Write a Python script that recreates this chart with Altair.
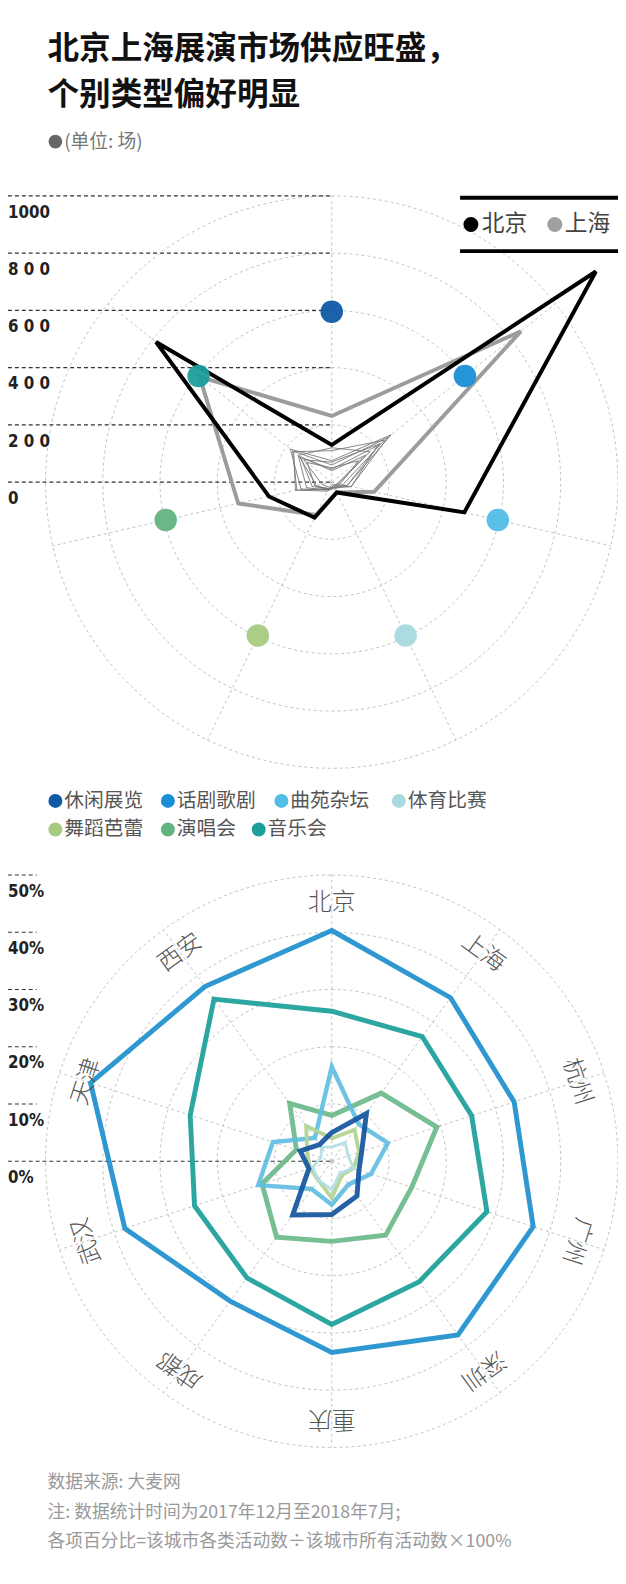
import altair as alt
import pandas as pd

W, H = 618, 1576
CJK = "Noto Sans CJK SC"
NUM_FONT = "DejaVu Sans Condensed, Liberation Sans Narrow, Roboto, sans-serif"

# ---------------- text ----------------
TITLE_LINES = ["北京上海展演市场供应旺盛，", "个别类型偏好明显"]
UNIT_NOTE = "(单位: 场)"
SOURCE_LINES = [
    "数据来源: 大麦网",
    "注: 数据统计时间为2017年12月至2018年7月;",
    "各项百分比=该城市各类活动数÷该城市所有活动数×100%",
]

# ---------------- categories ----------------
CATEGORIES = ["休闲展览", "话剧歌剧", "曲苑杂坛", "体育比赛", "舞蹈芭蕾", "演唱会", "音乐会"]
DOT_COLORS = ["#0f5aa5", "#1a8fd5", "#52bde6", "#a8d9e0", "#a6ca80", "#63b380", "#1c9e9c"]
LINE_COLORS = ["#13529d", "#1d8fcc", "#62bde2", "#b3dde4", "#b0d392", "#6cb98a", "#1a9e98"]

CITIES = ["北京", "上海", "杭州", "广州", "深圳", "重庆", "成都", "武汉", "天津", "西安"]

# ---------------- top radar: counts (场), in CATEGORIES order ----------------
COUNTS_BEIJING = [130, 1180, 475, 40, 138, 225, 785]
COUNTS_SHANGHAI = [231, 845, 152, 40, 127, 335, 590]
COUNTS_HANGZHOU = [60, 250, 70, 20, 35, 125, 175]
COUNTS_GUANGZHOU = [75, 265, 55, 25, 30, 110, 185]
COUNTS_SHENZHEN = [110, 235, 40, 20, 25, 130, 170]
COUNTS_CHONGQING = [50, 120, 30, 20, 25, 60, 110]
COUNTS_CHENGDU = [120, 170, 25, 15, 30, 90, 150]
COUNTS_WUHAN = [45, 205, 70, 20, 25, 70, 140]
COUNTS_TIANJIN = [70, 215, 55, 10, 20, 35, 125]
COUNTS_XIAN = [40, 150, 20, 15, 30, 55, 145]
TOP_COUNTS = [COUNTS_BEIJING, COUNTS_SHANGHAI, COUNTS_HANGZHOU, COUNTS_GUANGZHOU,
              COUNTS_SHENZHEN, COUNTS_CHONGQING, COUNTS_CHENGDU, COUNTS_WUHAN,
              COUNTS_TIANJIN, COUNTS_XIAN]
TOP_GRID_LEVELS = [200, 400, 600, 800, 1000]
TOP_TICK_VALUES = [0, 200, 400, 600, 800, 1000]
TOP_TICK_LABELS = ["0", "2 0 0", "4 0 0", "6 0 0", "8 0 0", "1000"]
TOP_DOT_LEVEL = 595

# ---------------- bottom radar: percent, in CITIES order ----------------
PCT_LEISURE = [5, 10.3, 5.5, 5, 7.5, 9.3, 11.6, 4.2, 5.8, 3.6]        # 休闲展览
PCT_DRAMA = [40.3, 35.3, 33.5, 37, 37.5, 33.4, 30.2, 38, 44.3, 37.7]  # 话剧歌剧
PCT_QUYI = [16.5, 8, 10.3, 7.2, 5, 7.6, 6, 13.5, 10.8, 5]             # 曲苑杂坛
PCT_SPORT = [2.5, 4, 3, 4, 2.5, 5, 4, 3.5, 2, 3]                       # 体育比赛
PCT_DANCE = [4, 6.8, 5, 4, 3, 6.4, 4, 4, 4.5, 7.6]                     # 舞蹈芭蕾
PCT_CONCERT = [8, 14.7, 19.3, 14.7, 16, 14, 16.4, 12.8, 6.5, 12.5]     # 演唱会
PCT_MUSIC = [26.2, 26.9, 25.7, 28.5, 26, 28.5, 25.2, 25.2, 26, 35]     # 音乐会
BOTTOM_PCTS = [PCT_LEISURE, PCT_DRAMA, PCT_QUYI, PCT_SPORT, PCT_DANCE, PCT_CONCERT, PCT_MUSIC]
BOTTOM_GRID_LEVELS = [10, 20, 30, 40, 50]
BOTTOM_TICK_VALUES = [0, 10, 20, 30, 40, 50]
BOTTOM_TICK_LABELS = ["0%", "10%", "20%", "30%", "40%", "50%"]
BOTTOM_LABEL_LEVEL = 45
BOTTOM_DRAW_ORDER = ["话剧歌剧", "音乐会", "演唱会", "曲苑杂坛", "舞蹈芭蕾", "体育比赛", "休闲展览"]
BOTTOM_WIDTHS = {"话剧歌剧": 5, "音乐会": 5, "演唱会": 5, "曲苑杂坛": 4.5,
                 "舞蹈芭蕾": 4, "体育比赛": 3, "休闲展览": 5}

# ---------------- layout (pixels of the chart) ----------------
TOP_CX, TOP_CY, TOP_K = 328, 470, 0.29       # px per 场
BOT_CX, BOT_CY, BOT_K = 328, 1158, 5.8       # px per %

top_x = alt.Scale(domain=[-TOP_CX / TOP_K, (W - TOP_CX) / TOP_K], nice=False, zero=False)
top_y = alt.Scale(domain=[-(H - TOP_CY) / TOP_K, TOP_CY / TOP_K], nice=False, zero=False)
bot_x = alt.Scale(domain=[-BOT_CX / BOT_K, (W - BOT_CX) / BOT_K], nice=False, zero=False)
bot_y = alt.Scale(domain=[-(H - BOT_CY) / BOT_K, BOT_CY / BOT_K], nice=False, zero=False)
TOP_XMIN = -TOP_CX / TOP_K
BOT_XMIN = -BOT_CX / BOT_K

# ---------------- tables ----------------
top_df = pd.DataFrame([
    {"city": c, "cat": cat, "idx": i, "value": v}
    for c, vals in zip(CITIES, TOP_COUNTS)
    for i, (cat, v) in enumerate(zip(CATEGORIES, vals))
])
cat_df = pd.DataFrame({"cat": CATEGORIES, "idx": list(range(len(CATEGORIES)))})
bot_df = pd.DataFrame([
    {"cat": cat, "city": c, "idx": i, "value": v}
    for cat, vals in zip(CATEGORIES, BOTTOM_PCTS)
    for i, (c, v) in enumerate(zip(CITIES, vals))
])
city_df = pd.DataFrame({"city": CITIES, "idx": list(range(len(CITIES)))})

GRID = dict(color="#c2c2c2", strokeWidth=1, strokeDash=[3, 3])


def polar(ch, n, field):
    return ch.transform_calculate(
        ang=f"datum.idx * 2 * PI / {n}"
    ).transform_calculate(
        px=f"datum.{field} * sin(datum.ang)",
        py=f"datum.{field} * cos(datum.ang)",
    )


def XY(xs, ys):
    return dict(x=alt.X("px:Q", scale=xs, axis=None), y=alt.Y("py:Q", scale=ys, axis=None))


def circles(levels, xs, ys):
    return alt.Chart(pd.DataFrame({"level": levels})).transform_calculate(
        deg="sequence(0, 361, 3)"
    ).transform_flatten(["deg"]).transform_calculate(
        px="datum.level * sin(datum.deg * PI / 180)",
        py="datum.level * cos(datum.deg * PI / 180)",
    ).mark_line(**GRID).encode(detail="level:N", order="deg:Q", **XY(xs, ys))


def spokes(df, n, outer, xs, ys):
    return alt.Chart(df).transform_calculate(
        ang=f"datum.idx * 2 * PI / {n}", z="0"
    ).transform_calculate(
        ex=f"{outer} * sin(datum.ang)", ey=f"{outer} * cos(datum.ang)"
    ).mark_rule(**GRID).encode(
        x=alt.X("z:Q", scale=xs, axis=None), y=alt.Y("z:Q", scale=ys, axis=None),
        x2="ex:Q", y2="ey:Q")


def level_rules(values, labels, xmin, short, xs, ys):
    d = pd.DataFrame({"level": values, "label": labels})
    base = alt.Chart(d).transform_calculate(
        xl=f"{xmin}", xr=f"datum.level == 0 ? 0 : {short}"
    )
    rules = base.mark_rule(color="#333333", strokeWidth=1.1, strokeDash=[4, 3]).encode(
        x=alt.X("xl:Q", scale=xs, axis=None), x2="xr:Q",
        y=alt.Y("level:Q", scale=ys, axis=None))
    txt = base.mark_text(align="left", baseline="middle", dy=17, fontSize=17,
                         fontWeight="bold", font=NUM_FONT, color="#222222").encode(
        x=alt.X("xl:Q", scale=xs, axis=None), y=alt.Y("level:Q", scale=ys, axis=None),
        text="label:N")
    return rules + txt


# ---------------- top radar ----------------
top_lines_base = polar(alt.Chart(top_df), len(CATEGORIES), "value")
others = top_lines_base.transform_filter(
    "datum.city != '北京' && datum.city != '上海'"
).mark_line(interpolate="linear-closed", color="#777777", strokeWidth=1, opacity=0.9).encode(
    detail="city:N", order="idx:Q", **XY(top_x, top_y))
shanghai = top_lines_base.transform_filter("datum.city == '上海'").mark_line(
    interpolate="linear-closed", color="#9c9c9c", strokeWidth=4, strokeJoin="miter"
).encode(order="idx:Q", **XY(top_x, top_y))
beijing = top_lines_base.transform_filter("datum.city == '北京'").mark_line(
    interpolate="linear-closed", color="#000000", strokeWidth=4, strokeJoin="miter"
).encode(order="idx:Q", **XY(top_x, top_y))
dots = polar(alt.Chart(cat_df).transform_calculate(lv=f"{TOP_DOT_LEVEL}"), len(CATEGORIES), "lv").mark_circle(
    size=520, opacity=0.95).encode(
    color=alt.Color("cat:N", scale=alt.Scale(domain=CATEGORIES, range=DOT_COLORS), legend=None),
    **XY(top_x, top_y))

top_chart = alt.layer(
    circles(TOP_GRID_LEVELS, top_x, top_y),
    spokes(cat_df, len(CATEGORIES), max(TOP_GRID_LEVELS), top_x, top_y),
    level_rules(TOP_TICK_VALUES, TOP_TICK_LABELS, TOP_XMIN, 0, top_x, top_y),
    others, shanghai, beijing, dots,
)

# ---------------- bottom radar ----------------
bot_base = polar(alt.Chart(bot_df), len(CITIES), "value")
bot_layers = []
for cat in BOTTOM_DRAW_ORDER:
    bot_layers.append(
        bot_base.transform_filter(f"datum.cat == '{cat}'").mark_line(
            interpolate="linear-closed", strokeWidth=BOTTOM_WIDTHS[cat], strokeJoin="miter",
            color=LINE_COLORS[CATEGORIES.index(cat)], opacity=0.92,
        ).encode(order="idx:Q", **XY(bot_x, bot_y))
    )
city_labels = polar(
    alt.Chart(city_df).transform_calculate(lv=f"{BOTTOM_LABEL_LEVEL}", deg=f"datum.idx * 360 / {len(CITIES)}"),
    len(CITIES), "lv"
).mark_text(fontSize=24, font=CJK, fontWeight=300, color="#555555",
            align="center", baseline="middle").encode(
    text="city:N", angle=alt.Angle("deg:Q", scale=None), **XY(bot_x, bot_y))

bottom_chart = alt.layer(
    circles(BOTTOM_GRID_LEVELS, bot_x, bot_y),
    spokes(city_df, len(CITIES), max(BOTTOM_GRID_LEVELS), bot_x, bot_y),
    level_rules(BOTTOM_TICK_VALUES, BOTTOM_TICK_LABELS, BOT_XMIN, BOT_XMIN + 5, bot_x, bot_y),
    *bot_layers, city_labels,
)


# ---------------- free text / legends ----------------
def txt(s, x, y, size, color, weight="normal", align="left"):
    return alt.Chart(pd.DataFrame({"t": [s]})).mark_text(
        align=align, baseline="middle", fontSize=size, color=color,
        fontWeight=weight, font=CJK).encode(text="t:N", x=alt.value(x), y=alt.value(y))


def dot(x, y, color, size):
    return alt.Chart(pd.DataFrame({"t": [0]})).mark_circle(size=size, color=color, opacity=1).encode(
        x=alt.value(x), y=alt.value(y))


def hrule(x1, x2, y, width):
    return alt.Chart(pd.DataFrame({"t": [0]})).mark_rule(color="#000000", strokeWidth=width).encode(
        x=alt.value(x1), x2=alt.value(x2), y=alt.value(y))


title = alt.Chart(pd.DataFrame({"t": [0]})).mark_text(
    align="left", baseline="top", fontSize=32, lineHeight=47, color="#111111",
    fontWeight="bold", font=CJK,
).encode(text=alt.value(TITLE_LINES), x=alt.value(40), y=alt.value(16))

texts = [
    title,
    dot(48, 125, "#666666", 190),
    txt(UNIT_NOTE, 57, 125, 19, "#777777"),
    # top legend
    hrule(458, 618, 182, 4),
    hrule(458, 618, 236, 4),
    dot(469, 209, "#000000", 230),
    txt("北京", 480, 209, 23, "#444444"),
    dot(554, 209, "#a0a0a0", 230),
    txt("上海", 564, 209, 23, "#444444"),
]
LEGEND_ROWS = [0, 0, 0, 0, 1, 1, 1]
LEGEND_X = [48, 162, 277, 396, 48, 162, 254]
LEGEND_Y = [793, 822]
for cat, col, r, lx in zip(CATEGORIES, DOT_COLORS, LEGEND_ROWS, LEGEND_X):
    texts.append(dot(lx, LEGEND_Y[r], col, 200))
    texts.append(txt(cat, lx + 9, LEGEND_Y[r], 20, "#555555"))
for i, line in enumerate(SOURCE_LINES):
    texts.append(txt(line, 40, 1484 + 30 * i, 18, "#999999"))

chart = alt.layer(top_chart, bottom_chart, *texts).resolve_scale(
    x="independent", y="independent", color="independent"
).properties(
    width=W, height=H, padding=0, autosize=alt.AutoSizeParams(type="none"),
    background="white",
).configure_view(stroke=None)

chart.save("out.html", embed_options={"renderer": "svg", "actions": False})
